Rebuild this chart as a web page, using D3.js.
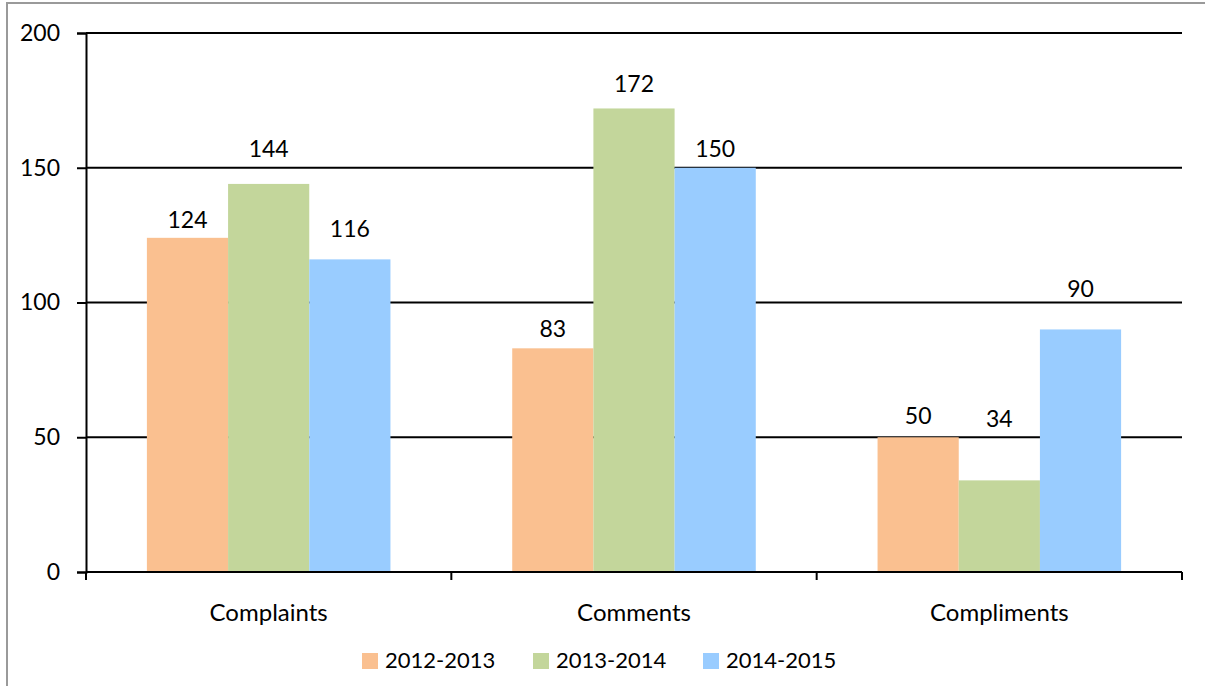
<!DOCTYPE html>
<html>
<head>
<meta charset="utf-8">
<script src="https://cdn.jsdelivr.net/npm/d3@7"></script>
<style>
  body { margin: 0; background: #fff; }
  svg text { font-family: Lato, "Open Sans", sans-serif; fill: #000; }
</style>
</head>
<body>
<svg></svg>
<script>
const categories = ["Complaints", "Comments", "Compliments"]
const seriesNames = ["2012-2013", "2013-2014", "2014-2015"]
const values2012 = [124, 83, 50]
const values2013 = [144, 172, 34]
const values2014 = [116, 150, 90]
const yTicks = [0, 50, 100, 150, 200]
const colors = ["#FAC090", "#C3D69B", "#99CCFF"]
// label lift above each bar (px), per series, as placed in the original
const labelLift = [[10, 11, 13], [27, 16, 53], [22, 11, 32]]

let width = 1205
let height = 686
let plotLeft = 86, plotRight = 1182, plotTop = 33, plotBottom = 572

let svg = d3.select("svg").attr("width", width).attr("height", height)

// outer frame
svg.append("rect")
    .attr("x", 7).attr("y", 3)
    .attr("width", width - 6).attr("height", height + 10)
    .attr("fill", "none")
    .attr("stroke", "#9a9a9a")
    .attr("stroke-width", 2)

let yScale = d3.scaleLinear().domain([0, 200]).range([plotBottom, plotTop])

let x0 = d3.scaleBand().domain(categories).range([plotLeft, plotRight]).padding(0)
let x1 = d3.scaleBand().domain(seriesNames).range([0, x0.bandwidth()])
    .paddingInner(0).paddingOuter(0.75)

let allSeries = [values2012, values2013, values2014]
let rows = []
categories.forEach((c, i) => {
    seriesNames.forEach((s, j) => {
        rows.push({cat: c, series: s, value: allSeries[j][i], color: colors[j], lift: labelLift[j][i]})
    })
})

// gridlines
svg.append("g")
    .selectAll("line")
    .data(yTicks.filter(d => d > 0))
    .enter()
    .append("line")
    .attr("x1", plotLeft).attr("x2", plotRight)
    .attr("y1", d => yScale(d)).attr("y2", d => yScale(d))
    .attr("stroke", "#000")
    .attr("stroke-width", 2)

// bars
svg.append("g")
    .selectAll("rect")
    .data(rows)
    .enter()
    .append("rect")
    .attr("x", d => x0(d.cat) + x1(d.series))
    .attr("y", d => yScale(d.value))
    .attr("width", x1.bandwidth())
    .attr("height", d => plotBottom - yScale(d.value))
    .attr("fill", d => d.color)

// value labels
svg.append("g")
    .selectAll("text")
    .data(rows)
    .enter()
    .append("text")
    .attr("x", d => x0(d.cat) + x1(d.series) + x1.bandwidth() / 2)
    .attr("y", d => yScale(d.value) - d.lift)
    .attr("text-anchor", "middle")
    .style("font-size", "23px")
    .text(d => d.value)

// y axis
let yAxis = d3.axisLeft(yScale).tickValues(yTicks).tickSize(9).tickPadding(17)
let yg = svg.append("g")
    .attr("transform", "translate(" + plotLeft + ",0)")
    .call(yAxis)
yg.select(".domain").attr("stroke", "#000").attr("stroke-width", 2)
yg.selectAll(".tick line").attr("stroke", "#000").attr("stroke-width", 2)
yg.selectAll(".tick text").style("font-size", "23px")
    .style("font-family", "Lato, 'Open Sans', sans-serif")

// x axis with ticks at category boundaries
let xg = svg.append("g")
    .attr("transform", "translate(0," + plotBottom + ")")
xg.append("line")
    .attr("x1", plotLeft).attr("x2", plotRight)
    .attr("stroke", "#000").attr("stroke-width", 2)
let edges = categories.map(c => x0(c)).concat([x0(categories[categories.length - 1]) + x0.bandwidth()])
xg.selectAll(".edge")
    .data(edges)
    .enter()
    .append("line")
    .attr("class", "edge")
    .attr("x1", d => d).attr("x2", d => d)
    .attr("y1", 0).attr("y2", 8)
    .attr("stroke", "#000").attr("stroke-width", 2)
xg.selectAll(".cat")
    .data(categories)
    .enter()
    .append("text")
    .attr("class", "cat")
    .attr("x", d => x0(d) + x0.bandwidth() / 2)
    .attr("y", 49)
    .attr("text-anchor", "middle")
    .style("font-size", "24px")
    .text(d => d)

// legend
let legendX = [362, 533, 703]
let legend = svg.append("g")
    .selectAll("g")
    .data(seriesNames)
    .enter()
    .append("g")
    .attr("transform", (d, i) => "translate(" + legendX[i] + ",653)")
legend.append("rect")
    .attr("width", 16).attr("height", 16)
    .attr("fill", (d, i) => colors[i])
legend.append("text")
    .attr("x", 23).attr("y", 15)
    .style("font-size", "22px")
    .text(d => d)
</script>
</body>
</html>
